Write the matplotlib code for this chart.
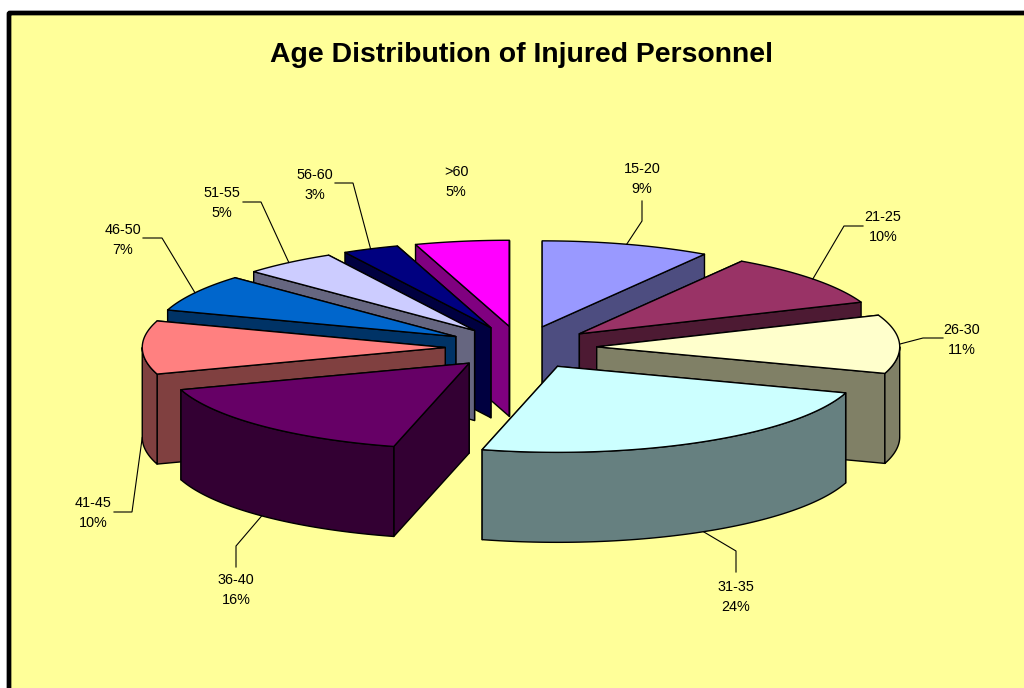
#!/usr/bin/env python3
"""
plot.py
Exploded 3-D style pie: age distribution of injured personnel.
"""

import numpy as np
import matplotlib
matplotlib.use("Agg")
import matplotlib.pyplot as plt
from matplotlib.patches import Polygon, FancyBboxPatch

# ── DATA ──────────────────────────────────────────────────────────────────────

AGE_GROUPS = ["15-20", "21-25", "26-30", "31-35", "36-40",
              "41-45", "46-50", "51-55", "56-60", ">60"]
PERCENT    = [9, 10, 11, 24, 16, 10, 7, 5, 3, 5]
TITLE      = "Age Distribution of Injured Personnel"

# ── STYLE / LAYOUT (pixel coordinates of the 1024x688 canvas) ─────────────────

COLORS = ["#9999FF", "#993366", "#FFFFCC", "#CCFFFF", "#660066",
          "#FF8080", "#0066CC", "#CCCCFF", "#000080", "#FF00FF"]
BACKGROUND = "#FFFF99"

CENTER_X, CENTER_Y = 521.0, 347.5
RADIUS_X, RADIUS_Y = 303.0, 86.0
EXPLODE = 0.25         # fraction of the radius
DEPTH   = 90.0

# label centre (first line), then the leader's bend and end; None = no leader
LABEL_POS = [(642, 169), (883, 217), (962, 330), (736, 587), (236, 580),
             (93, 503), (123, 230), (222, 193), (315, 175), (456, 172)]
LEADERS = [[(642, 221), (642, 201)],
           [(844, 226), (863, 226)],
           [(923, 338), (943, 338)],
           [(736, 551), (736, 572)],
           [(236, 546), (236, 567)],
           [(132, 512), (114, 512)],
           [(162, 238), (143, 238)],
           [(261, 202), (243, 202)],
           [(353, 183), (335, 183)],
           None]

plt.rcParams["font.family"] = ["Liberation Sans", "DejaVu Sans"]

# ── GEOMETRY ──────────────────────────────────────────────────────────────────

def rim(apex, angles):
    """Points on the ellipse around apex; angles clockwise from 12 o'clock."""
    return np.column_stack([apex[0] + RADIUS_X * np.sin(angles),
                            apex[1] - RADIUS_Y * np.cos(angles)])


def drop(points):
    return points + np.array([0.0, DEPTH])


def draw_slice(ax, start, end, color):
    mid = (start + end) / 2
    apex = np.array([CENTER_X + EXPLODE * RADIUS_X * np.sin(mid),
                     CENTER_Y - EXPLODE * RADIUS_Y * np.cos(mid)])
    side = tuple(c * 0.5 for c in matplotlib.colors.to_rgb(color))
    style = dict(edgecolor="black", linewidth=1.0, joinstyle="round")

    # radial faces, the one further back first
    faces = []
    for a in (start, end):
        p = rim(apex, np.array([a]))[0]
        faces.append(np.array([apex, p, p + [0, DEPTH], apex + [0, DEPTH]]))
    faces.sort(key=lambda f: f[:, 1].mean())
    for face in faces:
        ax.add_patch(Polygon(face, closed=True, facecolor=side, **style))

    # outer wall, only the part facing the viewer
    lo, hi = max(start, np.pi / 2), min(end, 3 * np.pi / 2)
    if hi > lo:
        arc = rim(apex, np.linspace(lo, hi, 80))
        wall = np.vstack([arc, drop(arc)[::-1]])
        ax.add_patch(Polygon(wall, closed=True, facecolor=side, **style))

    # top
    arc = rim(apex, np.linspace(start, end, 120))
    ax.add_patch(Polygon(np.vstack([apex, arc]), closed=True,
                         facecolor=color, **style))
    return apex

# ── MAIN ──────────────────────────────────────────────────────────────────────

def main():
    fig = plt.figure(figsize=(10.24, 6.88), dpi=100, facecolor="white")
    ax = fig.add_axes([0, 0, 1, 1])
    ax.set_xlim(0, 1024)
    ax.set_ylim(688, 0)
    ax.axis("off")

    # chart area, runs off the right and bottom of the picture
    ax.add_patch(FancyBboxPatch((9, 13), 1100, 760,
                                boxstyle="round,pad=0,rounding_size=1",
                                facecolor=BACKGROUND, edgecolor="black",
                                linewidth=3.4))

    ax.text(521, 54.5, TITLE, ha="center", va="center", fontsize=20.45,
            fontweight="bold", color="black")

    values = np.array(PERCENT, dtype=float)
    edges = np.concatenate([[0], np.cumsum(values)]) / values.sum() * 2 * np.pi
    mids = (edges[:-1] + edges[1:]) / 2

    # back to front
    apexes = {}
    for i in sorted(range(len(values)), key=lambda k: -np.cos(mids[k])):
        apexes[i] = draw_slice(ax, edges[i], edges[i + 1], COLORS[i])

    # labels and leader lines
    for i, name in enumerate(AGE_GROUPS):
        x, y = LABEL_POS[i]
        ax.text(x, y, name, ha="center", va="center", fontsize=10.4, color="black")
        ax.text(x, y + 20, "{}%".format(PERCENT[i]), ha="center", va="center",
                fontsize=10.4, color="black")
        if LEADERS[i] is None:
            continue
        anchor = rim(apexes[i], np.array([mids[i]]))[0]
        if np.cos(mids[i]) < 1e-6:      # front half: hangs off the bottom edge
            anchor = drop(anchor)
        xs = [anchor[0]] + [p[0] for p in LEADERS[i]]
        ys = [anchor[1]] + [p[1] for p in LEADERS[i]]
        ax.plot(xs, ys, color="black", linewidth=0.8, solid_joinstyle="miter")

    fig.savefig("out.png", dpi=100, facecolor="white")
    plt.close(fig)


if __name__ == "__main__":
    main()
